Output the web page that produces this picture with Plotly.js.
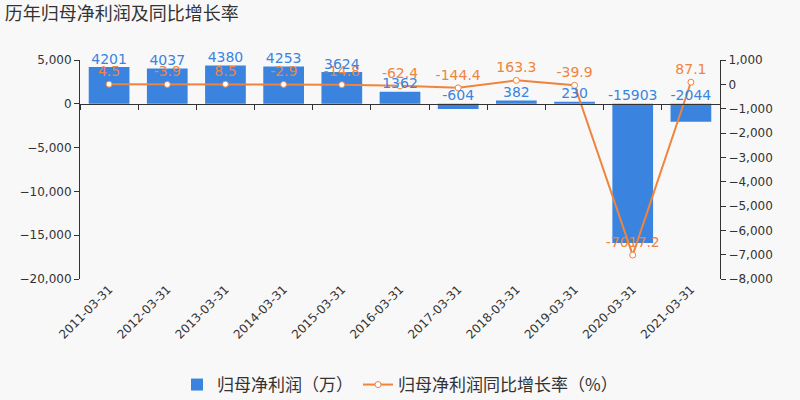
<!DOCTYPE html>
<html><head><meta charset="utf-8">
<script src="https://cdn.plot.ly/plotly-3.0.1.min.js"></script>
<style>body{margin:0;background:#f8f8f8}</style>
</head><body>
<div id="chart" style="width:800px;height:400px"></div>
<script>
const categories = ["2011-03-31","2012-03-31","2013-03-31","2014-03-31","2015-03-31","2016-03-31","2017-03-31","2018-03-31","2019-03-31","2020-03-31","2021-03-31"];
const profit = [4201, 4037, 4380, 4253, 3624, 1362, -604, 382, 230, -15903, -2044];
const growth = [4.5, -3.9, 8.5, -2.9, -14.8, -62.4, -144.4, 163.3, -39.9, -7017.2, 87.1];
const seriesNames = ["归母净利润（万）", "归母净利润同比增长率（%）"];

const blue = "#3a84e0", orange = "#f0843c";
const font = "DejaVu Sans, Noto Sans CJK SC, sans-serif";
const xr = [-0.5, categories.length - 0.5];

const traces = [
  {type:"bar", x:categories, y:profit, name:seriesNames[0], marker:{color:blue}, width:0.7, xaxis:"x", yaxis:"y", hoverinfo:"none"},
  {type:"scatter", mode:"text", x:categories, y:profit.map(v=>Math.max(v,0)), text:profit.map(String), textposition:"top center",
   textfont:{color:blue, size:14, family:font}, showlegend:false, cliponaxis:false, xaxis:"x2", yaxis:"y", hoverinfo:"none"},
  {type:"scatter", mode:"lines+markers+text", x:categories, y:growth, name:seriesNames[1], text:growth.map(v=>v.toFixed(1)), textposition:"top center",
   textfont:{color:orange, size:14, family:font}, line:{color:orange, width:2}, cliponaxis:false,
   marker:{color:"#ffffff", size:6, line:{color:orange, width:1}}, xaxis:"x", yaxis:"y2", hoverinfo:"none"}
];

const layout = {
  width:800, height:400,
  paper_bgcolor:"#f8f8f8", plot_bgcolor:"#f8f8f8",
  margin:{l:80, r:80, t:60, b:121},
  font:{family:font, color:"#333"},
  separators:".,",
  title:{text:"历年归母净利润及同比增长率", x:0.006, xanchor:"left", y:0.965, yanchor:"middle", font:{size:18, color:"#333", family:"Noto Sans CJK SC, sans-serif"}},
  showlegend:true,
  legend:{orientation:"h", x:0.5, xanchor:"center", yref:"container", y:0.0375, yanchor:"middle", font:{size:17, color:"#333", family:"Noto Sans CJK SC, sans-serif"}, bgcolor:"rgba(0,0,0,0)"},
  xaxis:{type:"category", range:xr, autorange:false, automargin:false, showline:false, ticks:"", tickangle:-45, tickfont:{size:12, color:"#333"}, showgrid:false, zeroline:false},
  xaxis2:{type:"category", overlaying:"x", range:xr, autorange:false, anchor:"free", position:0.8, side:"bottom", showline:true, linecolor:"#333", linewidth:1,
    ticks:"outside", tickson:"boundaries", ticklen:5, tickcolor:"#333", showticklabels:false, showgrid:false, zeroline:false, automargin:false},
  yaxis:{range:[-20000,5000], dtick:5000, tickformat:",d", showline:true, linecolor:"#333", ticks:"outside", ticklen:5, tickcolor:"#333",
    showgrid:false, zeroline:false, automargin:false, tickfont:{size:12, color:"#333"}},
  yaxis2:{range:[-8000,1000], dtick:1000, tickformat:",d", overlaying:"y", side:"right", showline:true, linecolor:"#333", ticks:"outside", ticklen:5, tickcolor:"#333",
    showgrid:false, zeroline:false, automargin:false, tickfont:{size:12, color:"#333"}}
};
Plotly.newPlot("chart", traces, layout, {displayModeBar:false, staticPlot:true});
</script>
</body></html>
